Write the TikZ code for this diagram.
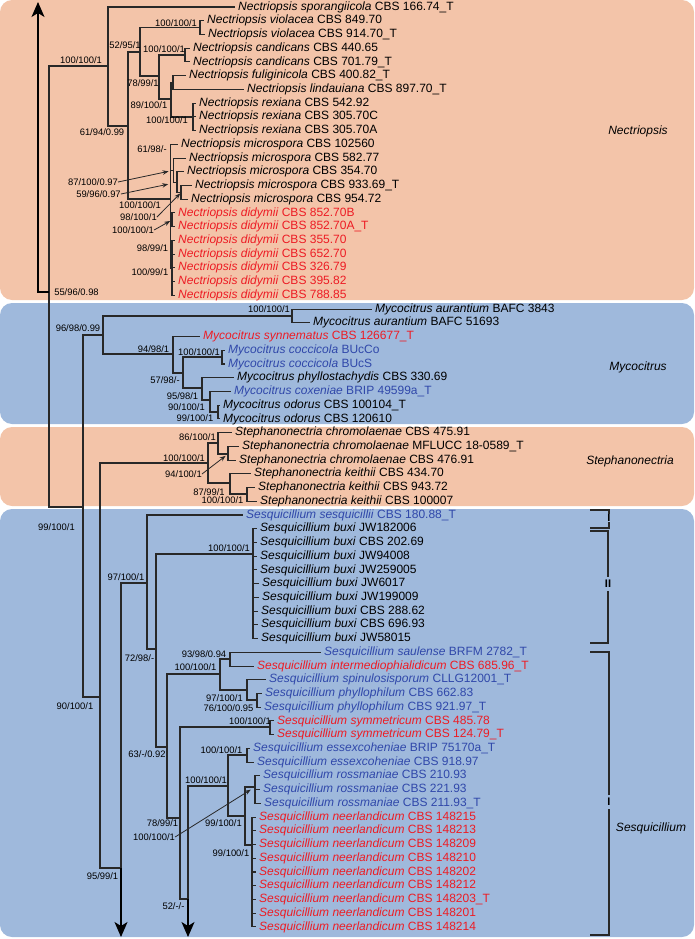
\documentclass[tikz,border=0pt]{standalone}
\usepackage{fontspec}
\setmainfont{Liberation Sans}
\usetikzlibrary{arrows.meta}
\definecolor{salmon}{RGB}{243,196,169}
\definecolor{skyblue}{RGB}{159,185,220}
\definecolor{txred}{RGB}{237,28,36}
\definecolor{txblue}{RGB}{48,72,170}
\definecolor{branch}{RGB}{40,40,40}
\begin{document}
\begin{tikzpicture}[x=1pt, y=-1pt,
    leaf/.style={anchor=west, inner xsep=3pt, inner ysep=0pt, font=\fontsize{12}{13}\selectfont},
    supp/.style={inner sep=0pt, font=\fontsize{9.4}{10}\selectfont},
    clade/.style={inner sep=0pt, font=\fontsize{12}{13}\selectfont\itshape},
    roman/.style={inner xsep=0pt, inner ysep=3pt, font=\fontsize{11}{12}\selectfont\bfseries},
    br/.style={draw=branch, line width=1.05pt},
    brk/.style={draw=branch, line width=1.1pt},
    bigarrow/.style={draw=black, line width=1.2pt, -{Stealth[length=15pt, width=13pt, inset=4pt]}},
    ptr/.style={draw=branch, line width=0.8pt, -{Stealth[length=6pt, width=4.5pt]}}]

    \useasboundingbox (0,0) rectangle (694,939);
    \fill[salmon, rounded corners=12pt] (0,0) rectangle (694,300);
    \fill[skyblue, rounded corners=12pt] (0,303) rectangle (694,424);
    \fill[salmon, rounded corners=12pt] (0,427) rectangle (694,506);
    \fill[skyblue, rounded corners=12pt] (0,509) rectangle (694,937);

    \foreach \i/\x/\tname/\tcode/\tcol in {
        0/235/Nectriopsis sporangiicola/CBS 166.74\_T/black,
        1/204/Nectriopsis violacea/CBS 849.70/black,
        2/205/Nectriopsis violacea/CBS 914.70\_T/black,
        3/190/Nectriopsis candicans/CBS 440.65/black,
        4/190/Nectriopsis candicans/CBS 701.79\_T/black,
        5/186/Nectriopsis fuliginicola/CBS 400.82\_T/black,
        6/244/Nectriopsis lindauiana/CBS 897.70\_T/black,
        7/196/Nectriopsis rexiana/CBS 542.92/black,
        8/196/Nectriopsis rexiana/CBS 305.70C/black,
        9/196/Nectriopsis rexiana/CBS 305.70A/black,
        10/178/Nectriopsis microspora/CBS 102560/black,
        11/186/Nectriopsis microspora/CBS 582.77/black,
        12/184/Nectriopsis microspora/CBS 354.70/black,
        13/192/Nectriopsis microspora/CBS 933.69\_T/black,
        14/188/Nectriopsis microspora/CBS 954.72/black,
        15/175/Nectriopsis didymii/CBS 852.70B/txred,
        16/175/Nectriopsis didymii/CBS 852.70A\_T/txred,
        17/175/Nectriopsis didymii/CBS 355.70/txred,
        18/175/Nectriopsis didymii/CBS 652.70/txred,
        19/175/Nectriopsis didymii/CBS 326.79/txred,
        20/175/Nectriopsis didymii/CBS 395.82/txred,
        21/175/Nectriopsis didymii/CBS 788.85/txred,
        22/372/Mycocitrus aurantium/BAFC 3843/black,
        23/310/Mycocitrus aurantium/BAFC 51693/black,
        24/200/Mycocitrus synnematus/CBS 126677\_T/txred,
        25/225/Mycocitrus coccicola/BUcCo/txblue,
        26/225/Mycocitrus coccicola/BUcS/txblue,
        27/234/Mycocitrus phyllostachydis/CBS 330.69/black,
        28/231/Mycocitrus coxeniae/BRIP 49599a\_T/txblue,
        29/220/Mycocitrus odorus/CBS 100104\_T/black,
        30/220/Mycocitrus odorus/CBS 120610/black,
        31/232/Stephanonectria chromolaenae/CBS 475.91/black,
        32/239/Stephanonectria chromolaenae/MFLUCC 18-0589\_T/black,
        33/236/Stephanonectria chromolaenae/CBS 476.91/black,
        34/251/Stephanonectria keithii/CBS 434.70/black,
        35/255/Stephanonectria keithii/CBS 943.72/black,
        36/257/Stephanonectria keithii/CBS 100007/black,
        37/243/Sesquicillium sesquicillii/CBS 180.88\_T/txblue,
        38/257/Sesquicillium buxi/JW182006/black,
        39/257/Sesquicillium buxi/CBS 202.69/black,
        40/257/Sesquicillium buxi/JW94008/black,
        41/257/Sesquicillium buxi/JW259005/black,
        42/259/Sesquicillium buxi/JW6017/black,
        43/259/Sesquicillium buxi/JW199009/black,
        44/258/Sesquicillium buxi/CBS 288.62/black,
        45/258/Sesquicillium buxi/CBS 696.93/black,
        46/258/Sesquicillium buxi/JW58015/black,
        47/321/Sesquicillium saulense/BRFM 2782\_T/txblue,
        48/254/Sesquicillium intermediophialidicum/CBS 685.96\_T/txred,
        49/266/Sesquicillium spinulosisporum/CLLG12001\_T/txblue,
        50/262/Sesquicillium phyllophilum/CBS 662.83/txblue,
        51/261/Sesquicillium phyllophilum/CBS 921.97\_T/txblue,
        52/274/Sesquicillium symmetricum/CBS 485.78/txred,
        53/274/Sesquicillium symmetricum/CBS 124.79\_T/txred,
        54/250/Sesquicillium essexcoheniae/BRIP 75170a\_T/txblue,
        55/254/Sesquicillium essexcoheniae/CBS 918.97/txblue,
        56/260/Sesquicillium rossmaniae/CBS 210.93/txblue,
        57/260/Sesquicillium rossmaniae/CBS 221.93/txblue,
        58/261/Sesquicillium rossmaniae/CBS 211.93\_T/txblue,
        59/256/Sesquicillium neerlandicum/CBS 148215/txred,
        60/256/Sesquicillium neerlandicum/CBS 148213/txred,
        61/256/Sesquicillium neerlandicum/CBS 148209/txred,
        62/256/Sesquicillium neerlandicum/CBS 148210/txred,
        63/256/Sesquicillium neerlandicum/CBS 148202/txred,
        64/256/Sesquicillium neerlandicum/CBS 148212/txred,
        65/256/Sesquicillium neerlandicum/CBS 148203\_T/txred,
        66/256/Sesquicillium neerlandicum/CBS 148201/txred,
        67/256/Sesquicillium neerlandicum/CBS 148214/txred}{
        \node[leaf, text=\tcol] (t\i) at (\x,{7+13.73*\i}) {\textit{\tname} \tcode};
    }

    \coordinate (nViol) at (200,27.6);
    \coordinate (nCand) at (185,55);
    \coordinate (nFuLi) at (173,82.5);
    \coordinate (nRex) at (193,117);
    \coordinate (n89) at (171,99);
    \coordinate (n78) at (159,76);
    \coordinate (n52) at (140,52);
    \coordinate (nMD) at (181,192.7);
    \coordinate (nMC) at (177,182.4);
    \coordinate (nMB) at (173.5,170.3);
    \coordinate (nDa) at (172,220);
    \coordinate (nDb) at (172,268);
    \coordinate (nMicro) at (170.5,199);
    \coordinate (n61) at (128,126);
    \coordinate (n100N) at (108,66);
    \coordinate (n55) at (49,292);
    \coordinate (outA) at (38,2);
    \coordinate (n99) at (83,507);
    \coordinate (nMyco) at (103,335);
    \coordinate (nAur) at (292,316);
    \coordinate (n94) at (173,354);
    \coordinate (n57) at (183,373);
    \coordinate (nCocc) at (222,357);
    \coordinate (n95) at (202,388);
    \coordinate (n90m) at (210,400);
    \coordinate (nOdo) at (218,412);
    \coordinate (n90) at (100,697);
    \coordinate (nSteph) at (208,463);
    \coordinate (n86) at (218,443);
    \coordinate (nChr) at (228,454);
    \coordinate (n87) at (230,483);
    \coordinate (nKei) at (247,494);
    \coordinate (n95s) at (121,868);
    \coordinate (outB) at (121,937);
    \coordinate (n97) at (147,583);
    \coordinate (n72) at (156,649);
    \coordinate (nBuxi) at (253,554);
    \coordinate (n63) at (167,747);
    \coordinate (n100a) at (220,674);
    \coordinate (n93) at (230,659);
    \coordinate (n97b) at (247,690);
    \coordinate (nPhy) at (257,700);
    \coordinate (n78s) at (180,818);
    \coordinate (nSym) at (270,727);
    \coordinate (n52s) at (188,899);
    \coordinate (outC) at (188,937);
    \coordinate (nP) at (228,786);
    \coordinate (nEss) at (247,755);
    \coordinate (nQ) at (245,816);
    \coordinate (nRos) at (255,787);
    \coordinate (nNeer) at (252,845);

    \foreach \p/\c in {nViol/t1.west, nViol/t2.west, nCand/t3.west, nCand/t4.west,
        nFuLi/t5.west, nFuLi/t6.west, nRex/t7.west, nRex/t8.west, nRex/t9.west,
        n89/nFuLi, n89/nRex, n78/nCand, n78/n89, n52/nViol, n52/n78,
        nMD/t13.west, nMD/t14.west, nMC/t12.west, nMC/nMD, nMB/t11.west, nMB/nMC,
        nDa/t15.west, nDa/t16.west, nMicro/t10.west, nMicro/nMB, nMicro/nDa, nMicro/nDb,
        n61/n52, n61/nMicro, n100N/t0.west, n100N/n61, n55/n100N, n55/n99,
        nAur/t22.west, nAur/t23.west, nCocc/t25.west, nCocc/t26.west,
        nOdo/t29.west, nOdo/t30.west, n90m/t28.west, n90m/nOdo, n95/t27.west, n95/n90m,
        n57/nCocc, n57/n95, n94/t24.west, n94/n57, nMyco/nAur, nMyco/n94,
        n99/nMyco, n99/n90, nChr/t32.west, nChr/t33.west, n86/t31.west, n86/nChr,
        nKei/t35.west, nKei/t36.west, n87/t34.west, n87/nKei, nSteph/n86, nSteph/n87,
        n90/nSteph, n90/n95s, n93/t47.west, n93/t48.west, nPhy/t50.west, nPhy/t51.west,
        n97b/t49.west, n97b/nPhy, n100a/n93, n100a/n97b, nSym/t52.west, nSym/t53.west,
        nEss/t54.west, nEss/t55.west, nQ/nRos, nQ/nNeer, nP/nEss, nP/nQ, n52s/nP,
        n78s/nSym, n78s/n52s, n63/n100a, n63/n78s, n72/nBuxi, n72/n63,
        n97/t37.west, n97/n72, n95s/n97}{
        \draw[br] (\p) |- (\c);
    }
    \foreach \c in {17,...,21}{
        \draw[br] (nDb) |- (t\c.west);
    }
    \foreach \c in {38,...,46}{
        \draw[br] (nBuxi) |- (t\c.west);
    }
    \foreach \c in {56,...,58}{
        \draw[br] (nRos) |- (t\c.west);
    }
    \foreach \c in {59,...,67}{
        \draw[br] (nNeer) |- (t\c.west);
    }

    \draw[bigarrow] (n55) -| (outA);
    \draw[bigarrow] (n95s) -- (outB);
    \draw[bigarrow] (n52s) -- (outC);

    \foreach \x/\y/\s [count=\k] in {81/60/{100/100/1}, 125/45/{52/95/1}, 176/23/{100/100/1},
        164/49/{100/100/1}, 143/83/{78/99/1}, 149/105/{89/100/1}, 167/120/{100/100/1},
        102/132/{61/94/0.99}, 152/149/{61/98/-}, 140/205/{100/100/1}, 152.5/248/{98/99/1},
        150/272/{100/99/1}, 76.5/292/{55/96/0.98}, 269/309/{100/100/1}, 78/328/{96/98/0.99},
        153.5/349/{94/98/1}, 199/352/{100/100/1}, 165/380/{57/98/-}, 182.5/396/{95/98/1},
        186.5/407/{90/100/1}, 195/418/{99/100/1}, 197.5/437/{86/100/1}, 184/458/{100/100/1},
        209/492/{87/99/1}, 222.5/500/{100/100/1}, 56.5/527/{99/100/1}, 229/548/{100/100/1},
        126/577/{97/100/1}, 139.5/658/{72/98/-}, 204/654/{93/98/0.94}, 195.5/667/{100/100/1},
        224.5/698/{97/100/1}, 228.5/708/{76/100/0.95}, 75/706/{90/100/1}, 250/721/{100/100/1},
        147/754/{63/-/0.92}, 221.5/750/{100/100/1}, 206/780/{100/100/1}, 162.5/823/{78/99/1},
        223.5/823/{99/100/1}, 231/853/{99/100/1}, 102.5/876/{95/99/1}, 173.5/906/{52/-/-}}{
        \node[supp] (sup\k) at (\x,\y) {\s};
    }

    \node[supp] (p87) at (93,182) {87/100/0.97};
    \node[supp] (p59) at (98.5,194) {59/96/0.97};
    \node[supp] (p98) at (138.5,217) {98/100/1};
    \node[supp] (p100d) at (133,230) {100/100/1};
    \node[supp] (p94) at (183.5,474) {94/100/1};
    \node[supp] (p100r) at (154,837) {100/100/1};
    \draw[ptr, shorten >=5pt] (p87.east) -- (nMB);
    \draw[ptr, shorten >=9pt] (p59.east) -- (nMC);
    \draw[ptr, shorten >=1pt] (p98.east) -- (nMD);
    \draw[ptr, shorten >=2pt] (p100d.east) -- (nDa);
    \draw[ptr, shorten >=3pt] (p94.east) -- (nChr);
    \draw[ptr, shorten >=5pt] (p100r.east) -- (nRos);

    \node[clade] (cNec) at (638,131) {Nectriopsis};
    \node[clade] (cMyc) at (638,367) {Mycocitrus};
    \node[clade] (cSte) at (630,461) {Stephanonectria};
    \node[clade] (cSes) at (651,828) {Sesquicillium};

    \node[roman, inner ysep=0.5pt] (rIII) at (609,518) {I};
    \draw[brk] (590,510) -| (rIII.north);
    \draw[brk] (590,528) -| (rIII.south);
    \node[roman] (rII) at (608,584) {II};
    \draw[brk] (590,531) -| (rII.north);
    \draw[brk] (590,643) -| (rII.south);
    \node[roman] (rI) at (609,802) {I};
    \draw[brk] (590,652) -| (rI.north);
    \draw[brk] (590,935) -| (rI.south);
\end{tikzpicture}
\end{document}
